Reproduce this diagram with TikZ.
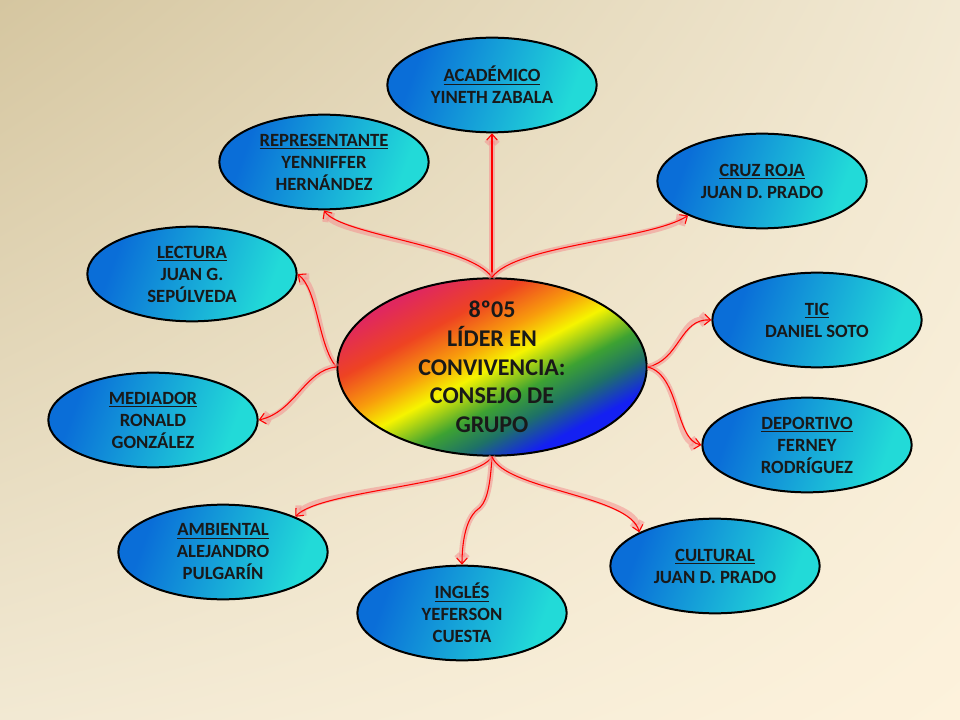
\documentclass[tikz,border=0pt]{standalone}
\usepackage{fontspec}
\setmainfont{Carlito}
\usetikzlibrary{shapes.geometric,arrows.meta,shadings}
\definecolor{fondoA}{HTML}{D5C6A0}
\definecolor{fondoB}{HTML}{F2E9D3}
\definecolor{fondoC}{HTML}{FDF2DC}
\definecolor{rbuno}{HTML}{E0285E}
\definecolor{rbdos}{HTML}{EE4322}
\definecolor{rbtres}{HTML}{F89C0C}
\definecolor{rbcuatro}{HTML}{F6F400}
\definecolor{rbcinco}{HTML}{3DA232}
\definecolor{rbseis}{HTML}{1E7266}
\definecolor{rbsiete}{HTML}{1420F2}
\definecolor{azA}{HTML}{0A6ED8}
\definecolor{azB}{HTML}{22DAD8}
\definecolor{brillo}{HTML}{F49090}
\pgfdeclarehorizontalshading{arcoiris}{100bp}{color(0bp)=(rbuno); color(27bp)=(rbuno); color(36bp)=(rbdos); color(44bp)=(rbtres); color(50bp)=(rbcuatro); color(58bp)=(rbcinco); color(64bp)=(rbseis); color(71bp)=(rbsiete); color(100bp)=(rbsiete)}
\pgfdeclarehorizontalshading{azulado}{100bp}{color(0bp)=(azA); color(28bp)=(azA); color(72bp)=(azB); color(100bp)=(azB)}
\tikzset{
  cargo/.style={ellipse, draw=black, line width=1.5pt, shade, shading=azulado, shading angle=-20,
    minimum width=157pt, minimum height=71pt, inner sep=0pt, align=center,
    font=\fontsize{14}{16.5}\selectfont\bfseries, text=black!90},
  nucleo/.style={ellipse, draw=black, line width=1.5pt, shade, shading=arcoiris, shading angle=-62,
    minimum width=232pt, minimum height=133pt, inner sep=0pt},
  lematexto/.style={align=center, inner sep=0pt, font=\fontsize{18}{21.5}\selectfont\bfseries, text=black!90},
  enlace/.style={draw=red, line width=0.8pt, -{Straight Barb[length=4.5pt,width=8pt]},
    preaction={draw=brillo, line width=4.5pt, opacity=0.55}}
}
\begin{document}
\begin{tikzpicture}[x=0.75pt,y=-0.75pt]
    \useasboundingbox (0,0) rectangle (960,720);
    \shade[upper left=fondoA, upper right=fondoB, lower left=fondoB, lower right=fondoC] (0,0) rectangle (960,720);
    \node[nucleo] (nucleo) at (492,367) {};
    \node[lematexto] (lema) at (nucleo) {8º05\\LÍDER EN\\CONVIVENCIA:\\CONSEJO DE\\GRUPO};
    \node[cargo] (academico) at (492,85) {\underline{ACADÉMICO}\\YINETH ZABALA};
    \node[cargo] (representante) at (324,162) {\underline{REPRESENTANTE}\\YENNIFFER\\HERNÁNDEZ};
    \node[cargo] (cruzroja) at (762,181) {\underline{CRUZ ROJA}\\JUAN D. PRADO};
    \node[cargo] (lectura) at (192,274) {\underline{LECTURA}\\JUAN G.\\SEPÚLVEDA};
    \node[cargo] (tic) at (817,320) {\underline{TIC}\\DANIEL SOTO};
    \node[cargo] (mediador) at (153,420) {\underline{MEDIADOR}\\RONALD\\GONZÁLEZ};
    \node[cargo] (deportivo) at (807,445) {\underline{DEPORTIVO}\\FERNEY\\RODRÍGUEZ};
    \node[cargo] (ambiental) at (223,552) {\underline{AMBIENTAL}\\ALEJANDRO\\PULGARÍN};
    \node[cargo] (ingles) at (462,613) {\underline{INGLÉS}\\YEFERSON\\CUESTA};
    \node[cargo] (cultural) at (715,566) {\underline{CULTURAL}\\JUAN D. PRADO};
    \draw[enlace] (nucleo.north) -- (academico.south);
    \draw[enlace] (nucleo.north) .. controls (470,245) and (340,235) .. (representante.south);
    \draw[enlace] (nucleo.north) .. controls (515,245) and (650,240) .. (cruzroja.205);
    \draw[enlace] (nucleo.west) .. controls (318,345) and (318,290) .. (lectura.east);
    \draw[enlace] (nucleo.west) .. controls (305,370) and (295,412) .. (mediador.east);
    \draw[enlace] (nucleo.east) .. controls (680,360) and (680,318) .. (tic.west);
    \draw[enlace] (nucleo.east) .. controls (680,375) and (675,440) .. (deportivo.west);
    \draw[enlace] (nucleo.south) .. controls (475,485) and (320,490) .. (ambiental.26);
    \draw[enlace] (nucleo.south) .. controls (490,490) and (486,504) .. (477,510) .. controls (465,520) and (462,545) .. (ingles.north);
    \draw[enlace] (nucleo.south) .. controls (505,490) and (630,495) .. (cultural.156);
\end{tikzpicture}
\end{document}
